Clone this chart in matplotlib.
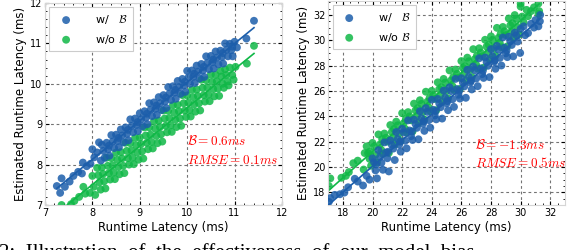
import numpy as np
import matplotlib
matplotlib.use("Agg")
import matplotlib.pyplot as plt
from matplotlib.ticker import MultipleLocator

plt.rcParams["mathtext.fontset"] = "cm"

# ---- data (runtime, estimated) ----
left_with_b = [
    (7.25, 7.47), (7.32, 7.30), (7.35, 7.66), (7.42, 7.45), (7.52, 7.58), (7.60, 7.72),
    (7.70, 7.82), (7.78, 7.78), (7.80, 8.05), (7.88, 7.96), (7.96, 8.02), (8.00, 8.38),
    (8.04, 8.18), (8.10, 8.30), (8.14, 8.55), (8.18, 8.10),
    (8.20, 8.49), (8.23, 8.34), (8.26, 8.17), (8.30, 8.54), (8.33, 8.38), (8.36, 8.22),
    (8.40, 8.73), (8.43, 8.57), (8.46, 8.41), (8.50, 8.74), (8.53, 8.58), (8.56, 8.43),
    (8.60, 8.87), (8.63, 8.72), (8.66, 8.55), (8.70, 8.92), (8.73, 8.76), (8.76, 8.60),
    (8.80, 9.12), (8.83, 8.96), (8.86, 8.80), (8.90, 9.14), (8.93, 8.98), (8.96, 8.83),
    (9.00, 9.27), (9.03, 9.12), (9.06, 8.95), (9.10, 9.32), (9.13, 9.16), (9.16, 9.00),
    (9.20, 9.52), (9.23, 9.36), (9.26, 9.20), (9.30, 9.54), (9.33, 9.38), (9.36, 9.23),
    (9.40, 9.67), (9.43, 9.52), (9.46, 9.35), (9.50, 9.72), (9.53, 9.56), (9.56, 9.40),
    (9.60, 9.92), (9.63, 9.76), (9.66, 9.60), (9.70, 9.94), (9.73, 9.78), (9.76, 9.63),
    (9.80, 10.07), (9.83, 9.92), (9.86, 9.75), (9.90, 10.12), (9.93, 9.96), (9.96, 9.80),
    (10.00, 10.32), (10.03, 10.16), (10.06, 10.00), (10.10, 10.33), (10.13, 10.17), (10.16, 10.02),
    (10.20, 10.45), (10.23, 10.30), (10.26, 10.13), (10.30, 10.49), (10.33, 10.33), (10.36, 10.17),
    (10.40, 10.68), (10.43, 10.52), (10.46, 10.36), (10.50, 10.69), (10.53, 10.53), (10.56, 10.38),
    (10.60, 10.80), (10.63, 10.65), (10.66, 10.48), (10.70, 10.82), (10.73, 10.66), (10.76, 10.50),
    (10.80, 11.00), (10.83, 10.84), (10.86, 10.68), (10.90, 10.99), (10.93, 10.83), (10.96, 10.68),
    (11.00, 11.04), (11.05, 10.90), (11.25, 11.12), (11.41, 11.56),
    (8.35, 8.47), (8.55, 8.66), (8.75, 8.86), (8.95, 9.05), (9.15, 9.26), (9.35, 9.46),
    (9.55, 9.66), (9.75, 9.85), (9.95, 10.05), (10.15, 10.25), (10.35, 10.42), (10.55, 10.60),
    (10.75, 10.76), (10.95, 10.92),
]
left_without_b = [
    (7.35, 7.00), (7.55, 7.02), (7.62, 7.10), (7.72, 7.20), (7.81, 7.45), (7.85, 7.28),
    (7.95, 7.30), (8.00, 7.72), (8.03, 7.45), (8.06, 7.25),
    (8.10, 7.92), (8.125, 7.74), (8.15, 7.56), (8.175, 7.38),
    (8.20, 7.93), (8.225, 7.77), (8.25, 7.59), (8.275, 7.41),
    (8.30, 8.17), (8.325, 7.97), (8.35, 7.79), (8.375, 7.63),
    (8.40, 8.16), (8.425, 7.98), (8.45, 7.80), (8.475, 7.64),
    (8.50, 8.30), (8.525, 8.12), (8.55, 7.94), (8.575, 7.76),
    (8.60, 8.31), (8.625, 8.15), (8.65, 7.97), (8.675, 7.79),
    (8.70, 8.54), (8.725, 8.34), (8.75, 8.16), (8.775, 8.00),
    (8.80, 8.53), (8.825, 8.35), (8.85, 8.17), (8.875, 8.01),
    (8.90, 8.66), (8.925, 8.48), (8.95, 8.30), (8.975, 8.12),
    (9.00, 8.67), (9.025, 8.51), (9.05, 8.33), (9.075, 8.15),
    (9.10, 8.92), (9.125, 8.72), (9.15, 8.54), (9.175, 8.38),
    (9.20, 8.92), (9.225, 8.74), (9.25, 8.56), (9.275, 8.40),
    (9.30, 9.07), (9.325, 8.89), (9.35, 8.71), (9.375, 8.53),
    (9.40, 9.09), (9.425, 8.93), (9.45, 8.75), (9.475, 8.57),
    (9.50, 9.34), (9.525, 9.14), (9.55, 8.96), (9.575, 8.80),
    (9.60, 9.33), (9.625, 9.15), (9.65, 8.97), (9.675, 8.81),
    (9.70, 9.47), (9.725, 9.29), (9.75, 9.11), (9.775, 8.93),
    (9.80, 9.48), (9.825, 9.32), (9.85, 9.14), (9.875, 8.96),
    (9.90, 9.72), (9.925, 9.52), (9.95, 9.34), (9.975, 9.18),
    (10.00, 9.71), (10.025, 9.53), (10.05, 9.35), (10.075, 9.19),
    (10.10, 9.85), (10.125, 9.67), (10.15, 9.49), (10.175, 9.31),
    (10.20, 9.86), (10.225, 9.70), (10.25, 9.52), (10.275, 9.34),
    (10.30, 10.10), (10.325, 9.90), (10.35, 9.72), (10.375, 9.56),
    (10.40, 10.09), (10.425, 9.91), (10.45, 9.73), (10.475, 9.57),
    (10.50, 10.23), (10.525, 10.05), (10.55, 9.87), (10.575, 9.69),
    (10.60, 10.22), (10.625, 10.06), (10.65, 9.88), (10.675, 9.70),
    (10.70, 10.32), (10.725, 10.18), (10.75, 10.00), (10.775, 9.90),
    (10.80, 10.36), (10.825, 10.22), (10.85, 10.06), (10.875, 9.96),
    (10.90, 10.40), (10.95, 10.22), (10.98, 10.10),
    (11.02, 10.42), (11.26, 10.50), (11.41, 10.94),
]
right_with_b = [
    (17.05, 17.25), (17.15, 17.55), (17.45, 17.80), (17.80, 17.85), (18.10, 17.98), (18.35, 18.40),
    (18.80, 19.07), (19.36, 18.54), (19.00, 18.85), (19.60, 19.30), (19.80, 19.00),
    (20.0, 20.68), (20.1, 20.38), (20.2, 19.73), (20.3, 19.10),
    (20.4, 21.33), (20.5, 20.78), (20.6, 20.33), (20.7, 19.78),
    (20.8, 21.94), (20.9, 21.14), (21.0, 20.69), (21.1, 19.65),
    (21.2, 22.10), (21.3, 21.75), (21.4, 21.45), (21.5, 20.55),
    (21.6, 22.76), (21.7, 22.21), (21.8, 21.76), (21.9, 21.21),
    (22.0, 23.02), (22.1, 22.72), (22.2, 22.07), (22.3, 21.47),
    (22.4, 23.68), (22.5, 22.88), (22.6, 22.43), (22.7, 22.13),
    (22.8, 23.74), (22.9, 23.39), (23.0, 23.09), (23.1, 22.19),
    (23.2, 24.40), (23.3, 23.85), (23.4, 23.40), (23.5, 22.85),
    (23.6, 24.65), (23.7, 24.35), (23.8, 23.70), (23.9, 23.10),
    (24.0, 25.31), (24.1, 24.51), (24.2, 24.06), (24.3, 23.76),
    (24.4, 25.37), (24.5, 25.02), (24.6, 24.72), (24.7, 23.82),
    (24.8, 26.03), (24.9, 25.48), (25.0, 25.03), (25.1, 24.48),
    (25.2, 26.29), (25.3, 25.99), (25.4, 25.34), (25.5, 24.74),
    (25.6, 26.95), (25.7, 26.15), (25.8, 25.70), (25.9, 25.40),
    (26.0, 27.01), (26.1, 26.66), (26.2, 26.36), (26.3, 25.46),
    (26.4, 27.67), (26.5, 27.12), (26.6, 26.67), (26.7, 26.12),
    (26.8, 27.93), (26.9, 27.63), (27.0, 26.98), (27.1, 26.38),
    (27.2, 28.58), (27.3, 27.78), (27.4, 27.33), (27.5, 27.03),
    (27.6, 28.64), (27.7, 28.29), (27.8, 27.99), (27.9, 27.09),
    (28.0, 29.30), (28.1, 28.75), (28.2, 28.30), (28.3, 27.75),
    (28.4, 29.56), (28.5, 29.26), (28.6, 28.61), (28.7, 28.01),
    (28.8, 30.22), (28.9, 29.42), (29.0, 28.97), (29.1, 28.67),
    (29.2, 30.28), (29.3, 29.93), (29.4, 29.63), (29.5, 28.73),
    (29.6, 30.60), (29.7, 30.40), (29.8, 29.90), (29.97, 29.00),
    (30.0, 30.90), (30.2, 31.10), (30.3, 30.40), (30.5, 30.57),
    (30.7, 31.30), (30.9, 31.00), (31.0, 31.60), (31.2, 31.10), (31.32, 32.00), (31.3, 31.50),
    (20.25, 20.20), (21.05, 21.20), (21.85, 22.00), (22.65, 22.80), (23.45, 23.60), (24.25, 24.40),
    (25.05, 25.20), (25.85, 26.00), (26.65, 26.80), (27.45, 27.60), (28.25, 28.40), (29.05, 29.20),
]
right_without_b = [
    (17.05, 18.50), (17.15, 19.10), (17.90, 19.15), (18.20, 19.30), (18.40, 19.60), (18.70, 20.30),
    (19.00, 20.50), (19.40, 19.80), (19.47, 21.10), (19.80, 21.20),
    (19.6, 21.63), (19.7, 21.09), (19.8, 20.64), (19.9, 20.10),
    (20.0, 21.90), (20.1, 21.61), (20.2, 20.96), (20.3, 20.37),
    (20.4, 22.57), (20.5, 21.78), (20.6, 21.33), (20.7, 21.04),
    (20.8, 22.64), (20.9, 22.30), (21.0, 22.00), (21.1, 21.11),
    (21.2, 23.31), (21.3, 22.77), (21.4, 22.32), (21.5, 21.78),
    (21.6, 23.58), (21.7, 23.29), (21.8, 22.64), (21.9, 22.05),
    (22.0, 24.25), (22.1, 23.46), (22.2, 23.01), (22.3, 22.72),
    (22.4, 24.33), (22.5, 23.99), (22.6, 23.69), (22.7, 22.80),
    (22.8, 25.00), (22.9, 24.46), (23.0, 24.01), (23.1, 23.47),
    (23.2, 25.27), (23.3, 24.98), (23.4, 24.33), (23.5, 23.74),
    (23.6, 25.94), (23.7, 25.15), (23.8, 24.70), (23.9, 24.41),
    (24.0, 26.01), (24.1, 25.67), (24.2, 25.37), (24.3, 24.48),
    (24.4, 26.68), (24.5, 26.14), (24.6, 25.69), (24.7, 25.15),
    (24.8, 26.95), (24.9, 26.66), (25.0, 26.01), (25.1, 25.42),
    (25.2, 27.62), (25.3, 26.83), (25.4, 26.38), (25.5, 26.09),
    (25.6, 27.69), (25.7, 27.35), (25.8, 27.05), (25.9, 26.16),
    (26.0, 28.36), (26.1, 27.82), (26.2, 27.37), (26.3, 26.83),
    (26.4, 28.63), (26.5, 28.34), (26.6, 27.69), (26.7, 27.10),
    (26.8, 29.30), (26.9, 28.51), (27.0, 28.06), (27.1, 27.77),
    (27.2, 29.37), (27.3, 29.03), (27.4, 28.73), (27.5, 27.84),
    (27.6, 30.04), (27.7, 29.50), (27.8, 29.05), (27.9, 28.51),
    (28.0, 30.31), (28.1, 30.02), (28.2, 29.37), (28.3, 28.78),
    (28.4, 30.98), (28.5, 30.19), (28.6, 29.74), (28.7, 29.45),
    (28.8, 31.05), (28.9, 30.71), (29.0, 30.41), (29.1, 29.52),
    (29.2, 31.72), (29.3, 31.18), (29.4, 30.73), (29.5, 30.19),
    (29.6, 31.99), (29.7, 31.70), (29.8, 31.05), (29.9, 30.46),
    (30.0, 32.66), (30.1, 31.87), (30.2, 31.42),
    (30.4, 32.40), (30.5, 31.90), (30.7, 32.30),
    (30.9, 32.60), (31.2, 32.90), (31.25, 32.30), (31.2, 32.10), (30.0, 32.90),
    (20.65, 22.20), (21.45, 23.00), (22.25, 23.80), (23.05, 24.65), (23.85, 25.45), (24.65, 26.30),
    (25.45, 27.10), (26.25, 27.95), (27.05, 28.80), (27.85, 29.65), (28.65, 30.50), (29.45, 31.35),
]

labels = ["w/   $\\mathcal{B}$", "w/o $\\mathcal{B}$"]
left_notes = ["$\\mathcal{B}=0.6ms$", "$RMSE=0.1ms$"]
right_notes = ["$\\mathcal{B}=-1.3ms$", "$RMSE=0.5ms$"]

blue = "#1c5eab"
green = "#10b847"


def panel(ax, with_b, without_b, lim, major, minor, notes, note_xy):
    for pts, col, lab, z in [(with_b, blue, labels[0], 3), (without_b, green, labels[1], 2)]:
        x, y = np.array(pts).T
        ax.scatter(x, y, s=32, color=col, alpha=0.85, edgecolors="none", label=lab, zorder=z)
        k, b = np.polyfit(x, y, 1)
        xs = np.array([x.min(), x.max()])
        ax.plot(xs, k * xs + b, color=col, lw=1.2, zorder=z)
    ax.set_xlim(*lim[0])
    ax.set_ylim(*lim[1])
    for a in (ax.xaxis, ax.yaxis):
        a.set_major_locator(MultipleLocator(major))
        a.set_minor_locator(MultipleLocator(minor))
    ax.tick_params(which="both", direction="in", top=True, right=True, labelsize=7, pad=2)
    ax.tick_params(which="major", length=3, width=0.8)
    ax.tick_params(which="minor", length=1.5, width=0.6)
    ax.grid(True, which="major", linestyle=(0, (2.5, 2.5)), color="0.45", lw=0.8, zorder=0)
    ax.set_axisbelow(True)
    for s in ax.spines.values():
        s.set_color("#d5d5d5")
        s.set_linewidth(0.8)
    ax.set_xlabel("Runtime Latency (ms)", fontsize=8.5, labelpad=2)
    ax.set_ylabel("Estimated Runtime Latency (ms)", fontsize=8.5, labelpad=2)
    leg = ax.legend(loc="upper left", fontsize=8, handletextpad=1.6, borderpad=0.5,
                    labelspacing=0.6, fancybox=False, framealpha=1, borderaxespad=0.4)
    leg.get_frame().set_edgecolor("#cccccc")
    leg.get_frame().set_linewidth(0.8)
    ax.text(note_xy[0], note_xy[1], notes[0], color="red", fontsize=9.5, va="center", zorder=5)
    ax.text(note_xy[0], note_xy[2], notes[1], color="red", fontsize=9.5, va="center", zorder=5)


fig = plt.figure(figsize=(5.88, 2.5), dpi=100)
ax1 = fig.add_axes([0.0765, 0.18, 0.403, 0.808])
ax2 = fig.add_axes([0.558, 0.18, 0.403, 0.816])

panel(ax1, left_with_b, left_without_b, ((7, 12), (7, 12)), 1, 0.2, left_notes, (10.0, 8.58, 8.11))
panel(ax2, right_with_b, right_without_b, ((17, 33), (17, 33.1)), 2, 0.5, right_notes, (26.9, 21.7, 20.33))

# caption of the paper figure, cut by the bottom edge as in the source image
fig.text(-0.002, -0.03, "2:  Illustration  of  the  effectiveness  of  our  model  bias",
         fontsize=15, family="Liberation Serif", va="baseline", ha="left")

fig.savefig("out.png", dpi=100)
